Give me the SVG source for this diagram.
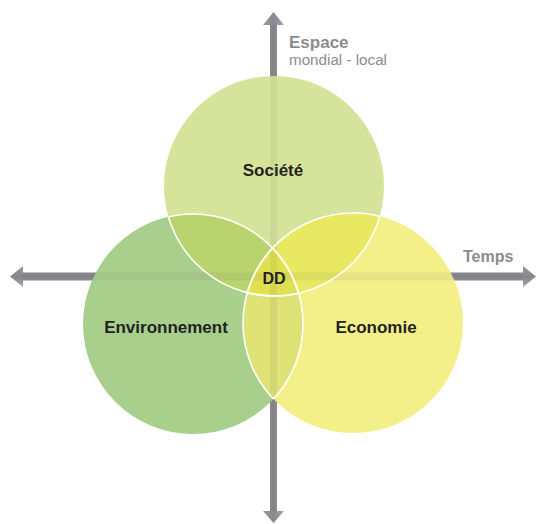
<svg xmlns="http://www.w3.org/2000/svg" width="538" height="524" viewBox="0 0 538 524">
<style>
.lbl{font-family:"Liberation Sans",Arial,sans-serif;font-weight:bold;fill:#222;text-anchor:middle;font-size:17px}
.ax{font-family:"Liberation Sans",Arial,sans-serif;fill:#8c8c8f}
.sep{fill:none;stroke:#ffffff;stroke-width:1.6}
</style>
<defs>
<linearGradient id="gv" x1="0" y1="0" x2="1" y2="0"><stop offset="0" stop-color="#9a9a9f"/><stop offset="0.5" stop-color="#88888e"/><stop offset="1" stop-color="#a5a5aa"/></linearGradient>
<linearGradient id="gh" x1="0" y1="0" x2="0" y2="1"><stop offset="0" stop-color="#9a9a9f"/><stop offset="0.5" stop-color="#86868c"/><stop offset="1" stop-color="#a5a5aa"/></linearGradient>
<clipPath id="cT"><circle cx="274" cy="186" r="110"/></clipPath>
<clipPath id="cL"><circle cx="193" cy="324" r="110"/></clipPath>
<clipPath id="cR"><circle cx="353" cy="323" r="110"/></clipPath>
</defs>
<g id="axes">
<path d="M270,25 L263,25 L273.5,12 L284,25 L277,25 L277,511 L284,511 L273.5,523 L263,511 L270,511 Z" fill="url(#gv)"/>
<path d="M23,272.5 L23,266 L10,276.5 L23,287 L23,280.5 L523,280.5 L523,287 L536,276.5 L523,266 L523,272.5 Z" fill="url(#gh)"/>
</g>
<g id="societe">
<circle cx="274" cy="186" r="110" fill="#d6e49b"/>
<text class="lbl" x="273" y="176">Société</text>
</g>
<g id="environnement">
<circle cx="193" cy="324" r="110" fill="#a9cf8d"/>
<text class="lbl" x="166" y="333">Environnement</text>
</g>
<g id="economie">
<circle cx="353" cy="323" r="110" fill="#f3f08a"/>
<text class="lbl" x="376" y="333">Economie</text>
</g>
<g id="overlaps">
<g clip-path="url(#cT)"><circle cx="193" cy="324" r="110" fill="#b9d46e"/></g>
<g clip-path="url(#cT)"><circle cx="353" cy="323" r="110" fill="#e8e862"/></g>
<g clip-path="url(#cL)"><circle cx="353" cy="323" r="110" fill="#dfe274"/></g>
</g>
<g id="dd">
<g clip-path="url(#cT)"><g clip-path="url(#cL)"><circle cx="353" cy="323" r="110" fill="#e0e152"/></g></g>
</g>
<g id="axis-through" opacity="0.08">
<rect x="270" y="25" width="7" height="486" fill="#5a5a50"/>
<rect x="23" y="272.5" width="500" height="8" fill="#5a5a50"/>
</g>
<g id="separators">
<g clip-path="url(#cT)"><circle class="sep" cx="193" cy="324" r="110"/><circle class="sep" cx="353" cy="323" r="110"/></g>
<g clip-path="url(#cL)"><circle class="sep" cx="274" cy="186" r="110"/><circle class="sep" cx="353" cy="323" r="110"/></g>
<g clip-path="url(#cR)"><circle class="sep" cx="274" cy="186" r="110"/><circle class="sep" cx="193" cy="324" r="110"/></g>
</g>
<g id="labels">
<text class="lbl" x="274" y="284" style="font-size:16px">DD</text>
<text class="ax" x="289" y="48" font-size="17" font-weight="bold">Espace</text>
<text class="ax" x="289" y="65" font-size="14" fill="#9a9a9c" textLength="98" lengthAdjust="spacingAndGlyphs">mondial - local</text>
<text class="ax" x="463" y="262" font-size="16" font-weight="bold">Temps</text>
</g>
</svg>
